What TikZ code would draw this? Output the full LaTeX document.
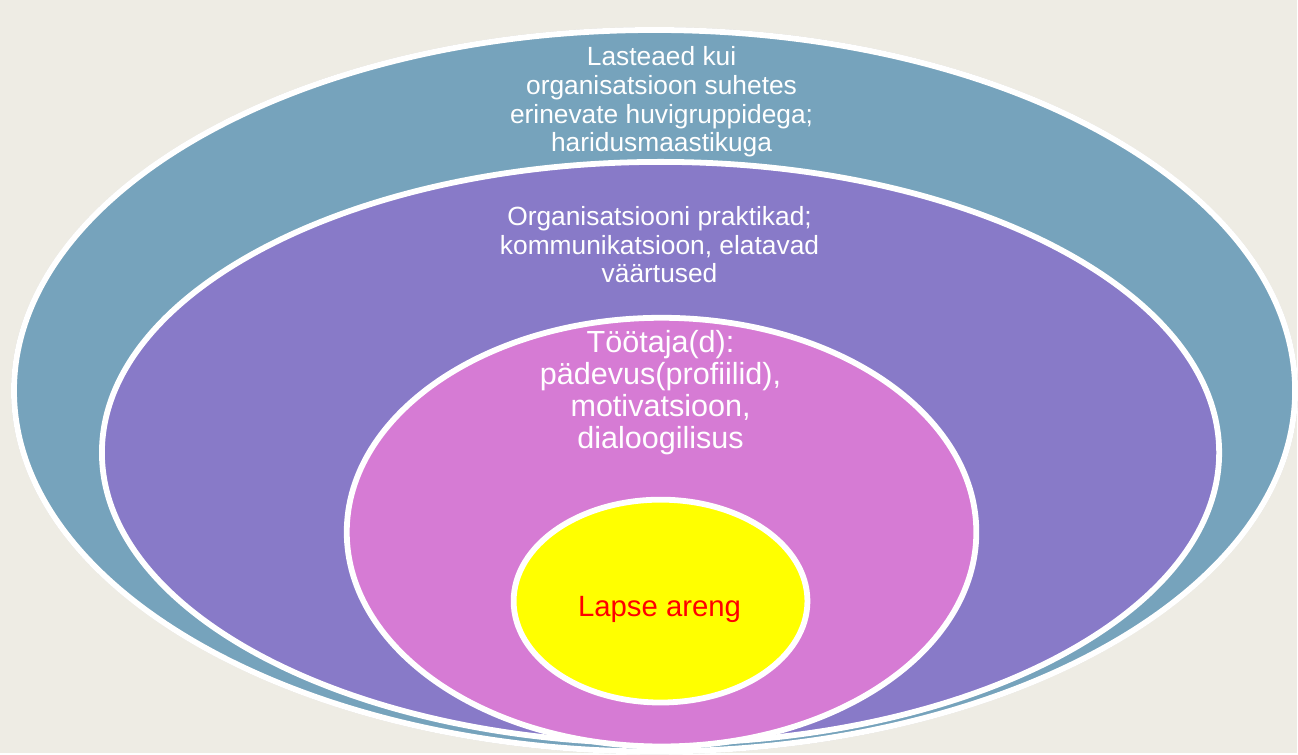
\documentclass[tikz,border=0pt]{standalone}
\usepackage{fontspec}
\setmainfont{Liberation Sans}
\definecolor{bgbeige}{HTML}{EEECE4}
\definecolor{ringteal}{HTML}{76A3BC}
\definecolor{ringpurple}{HTML}{887AC8}
\definecolor{ringpink}{HTML}{D67BD4}
\definecolor{ringyellow}{HTML}{FFFF00}
\tikzset{
  ring/.style={draw=white,line width=3.3pt},
  layertext/.style={align=center,inner sep=0pt,text=white,font=\fontsize{15}{16.3}\selectfont},
}
\begin{document}
\begin{tikzpicture}[x=0.02cm,y=-0.02cm]
\fill[bgbeige] (0,0) rectangle (1298,754);
\draw[gray!35,line width=0.4pt] (655,391) ellipse [x radius=643.5,y radius=363.5];
\path[ring,fill=ringteal] (655,391) ellipse [x radius=641,y radius=361];
\path[ring,fill=ringpurple] (661,453) ellipse [x radius=559,y radius=291];
\path[ring,fill=ringpink] (662,532.5) ellipse [x radius=315,y radius=214.5];
\path[ring,fill=ringyellow] (661,601.5) ellipse [x radius=147,y radius=101.5];
\node[layertext] (kindergarten) at (662,102) {Lasteaed kui\\organisatsioon suhetes\\erinevate huvigruppidega;\\haridusmaastikuga};
\node[layertext] (practices) at (660,245) {Organisatsiooni praktikad;\\kommunikatsioon, elatavad\\v\"a\"artused};
\node[layertext,font=\fontsize{17.4}{18.1}\selectfont] (staff) at (661,393) {T\"o\"otaja(d):\\p\"adevus(profiilid),\\motivatsioon,\\dialoogilisus};
\node[inner sep=0pt,text=red,font=\fontsize{16.7}{18}\selectfont] (child) at (660,610) {Lapse areng};
\end{tikzpicture}
\end{document}
